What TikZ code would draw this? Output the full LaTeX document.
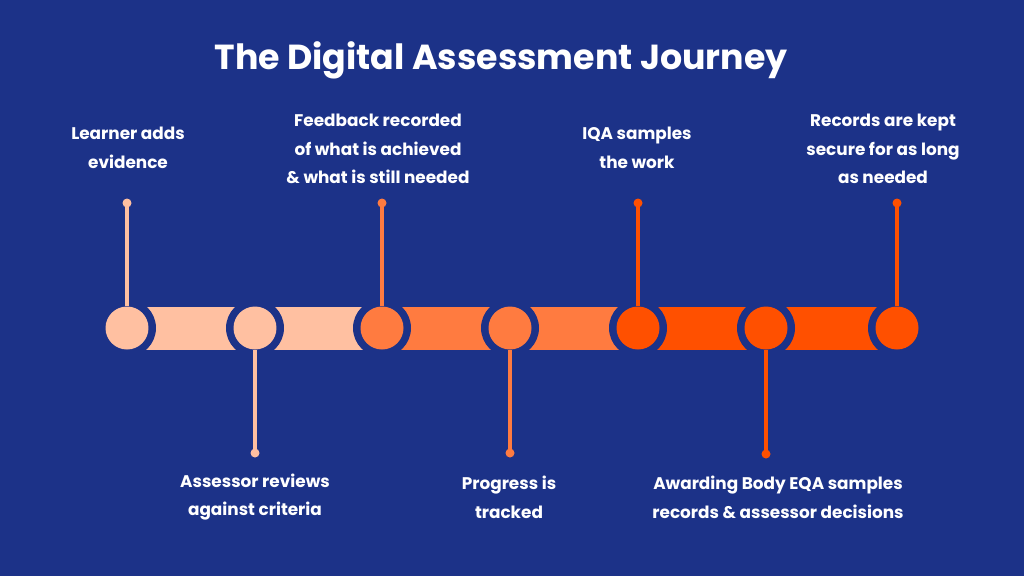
\documentclass[tikz,border=0pt]{standalone}
\usepackage{fontspec}
\setmainfont{Poppins}
\usepackage{tikz}
\usetikzlibrary{positioning,calc}
\definecolor{bgblue}{HTML}{1C3288}
\definecolor{peachc}{HTML}{FFC0A1}
\definecolor{midorange}{HTML}{FF7B40}
\definecolor{deeporange}{HTML}{FF5000}
\tikzset{
  stepcircle/.style={circle, fill=#1, minimum size=0.86cm, inner sep=0pt},
  gapring/.style={circle, fill=bgblue, minimum size=1.16cm, inner sep=0pt},
  enddot/.style={circle, fill=#1, minimum size=0.18cm, inner sep=0pt},
  stemline/.style={line width=1.9pt, #1},
  steplabel/.style={text=white, align=center, font=\fontsize{9.6}{16.4}\selectfont\bfseries}
}

\begin{document}
\begin{tikzpicture}[x=0.02cm, y=-0.02cm]
  \fill[bgblue] (0,0) rectangle (1024,576);
  \node[text=white, font=\fontsize{19.8}{24}\selectfont\bfseries] (title) at (501,60) {The Digital Assessment Journey};

  % positions along the line
  \coordinate (p1) at (127,328);
  \coordinate (p2) at (255,328);
  \coordinate (p3) at (382,328);
  \coordinate (p4) at (510,328);
  \coordinate (p5) at (638,328);
  \coordinate (p6) at (766,328);
  \coordinate (p7) at (897,328);

  % bars between the steps
  \fill[peachc] ($(p1)+(0,-21.5)$) rectangle ($(p2)+(0,21.5)$);
  \fill[peachc] ($(p2)+(0,-21.5)$) rectangle ($(p3)+(0,21.5)$);
  \fill[midorange] ($(p3)+(0,-21.5)$) rectangle ($(p4)+(0,21.5)$);
  \fill[midorange] ($(p4)+(0,-21.5)$) rectangle ($(p5)+(0,21.5)$);
  \fill[deeporange] ($(p5)+(0,-21.5)$) rectangle ($(p6)+(0,21.5)$);
  \fill[deeporange] ($(p6)+(0,-21.5)$) rectangle ($(p7)+(0,21.5)$);

  \node[gapring] (g1) at (p1) {};
  \node[gapring] (g2) at (p2) {};
  \node[gapring] (g3) at (p3) {};
  \node[gapring] (g4) at (p4) {};
  \node[gapring] (g5) at (p5) {};
  \node[gapring] (g6) at (p6) {};
  \node[gapring] (g7) at (p7) {};

  \node[stepcircle=peachc] (c1) at (p1) {};
  \node[stepcircle=peachc] (c2) at (p2) {};
  \node[stepcircle=midorange] (c3) at (p3) {};
  \node[stepcircle=midorange] (c4) at (p4) {};
  \node[stepcircle=deeporange] (c5) at (p5) {};
  \node[stepcircle=deeporange] (c6) at (p6) {};
  \node[stepcircle=deeporange] (c7) at (p7) {};

  % stems with end dots
  \node[enddot=peachc] (d1) at (127,203) {};
  \node[enddot=peachc] (d2) at (255,453) {};
  \node[enddot=midorange] (d3) at (382,203) {};
  \node[enddot=midorange] (d4) at (510,453) {};
  \node[enddot=deeporange] (d5) at (638,203) {};
  \node[enddot=deeporange] (d6) at (766,454) {};
  \node[enddot=deeporange] (d7) at (897,203) {};
  \draw[stemline=peachc] (d1.center) -- (c1.north);
  \draw[stemline=peachc] (d2.center) -- (c2.south);
  \draw[stemline=midorange] (d3.center) -- (c3.north);
  \draw[stemline=midorange] (d4.center) -- (c4.south);
  \draw[stemline=deeporange] (d5.center) -- (c5.north);
  \draw[stemline=deeporange] (d6.center) -- (c6.south);
  \draw[stemline=deeporange] (d7.center) -- (c7.north);

  % labels
  \node[steplabel] (l1) at (128,148) {Learner adds\\evidence};
  \node[steplabel] (l3) at (378,149) {Feedback recorded\\of what is achieved\\\& what is still needed};
  \node[steplabel] (l5) at (637,148) {IQA samples\\the work};
  \node[steplabel] (l7) at (883,149) {Records are kept\\secure for as long\\as needed};
  \node[steplabel] (l2) at (255,497) {Assessor reviews\\against criteria};
  \node[steplabel] (l4) at (509,497) {Progress is\\tracked};
  \node[steplabel] (l6) at (778,497) {Awarding Body EQA samples\\records \& assessor decisions};
\end{tikzpicture}
\end{document}
